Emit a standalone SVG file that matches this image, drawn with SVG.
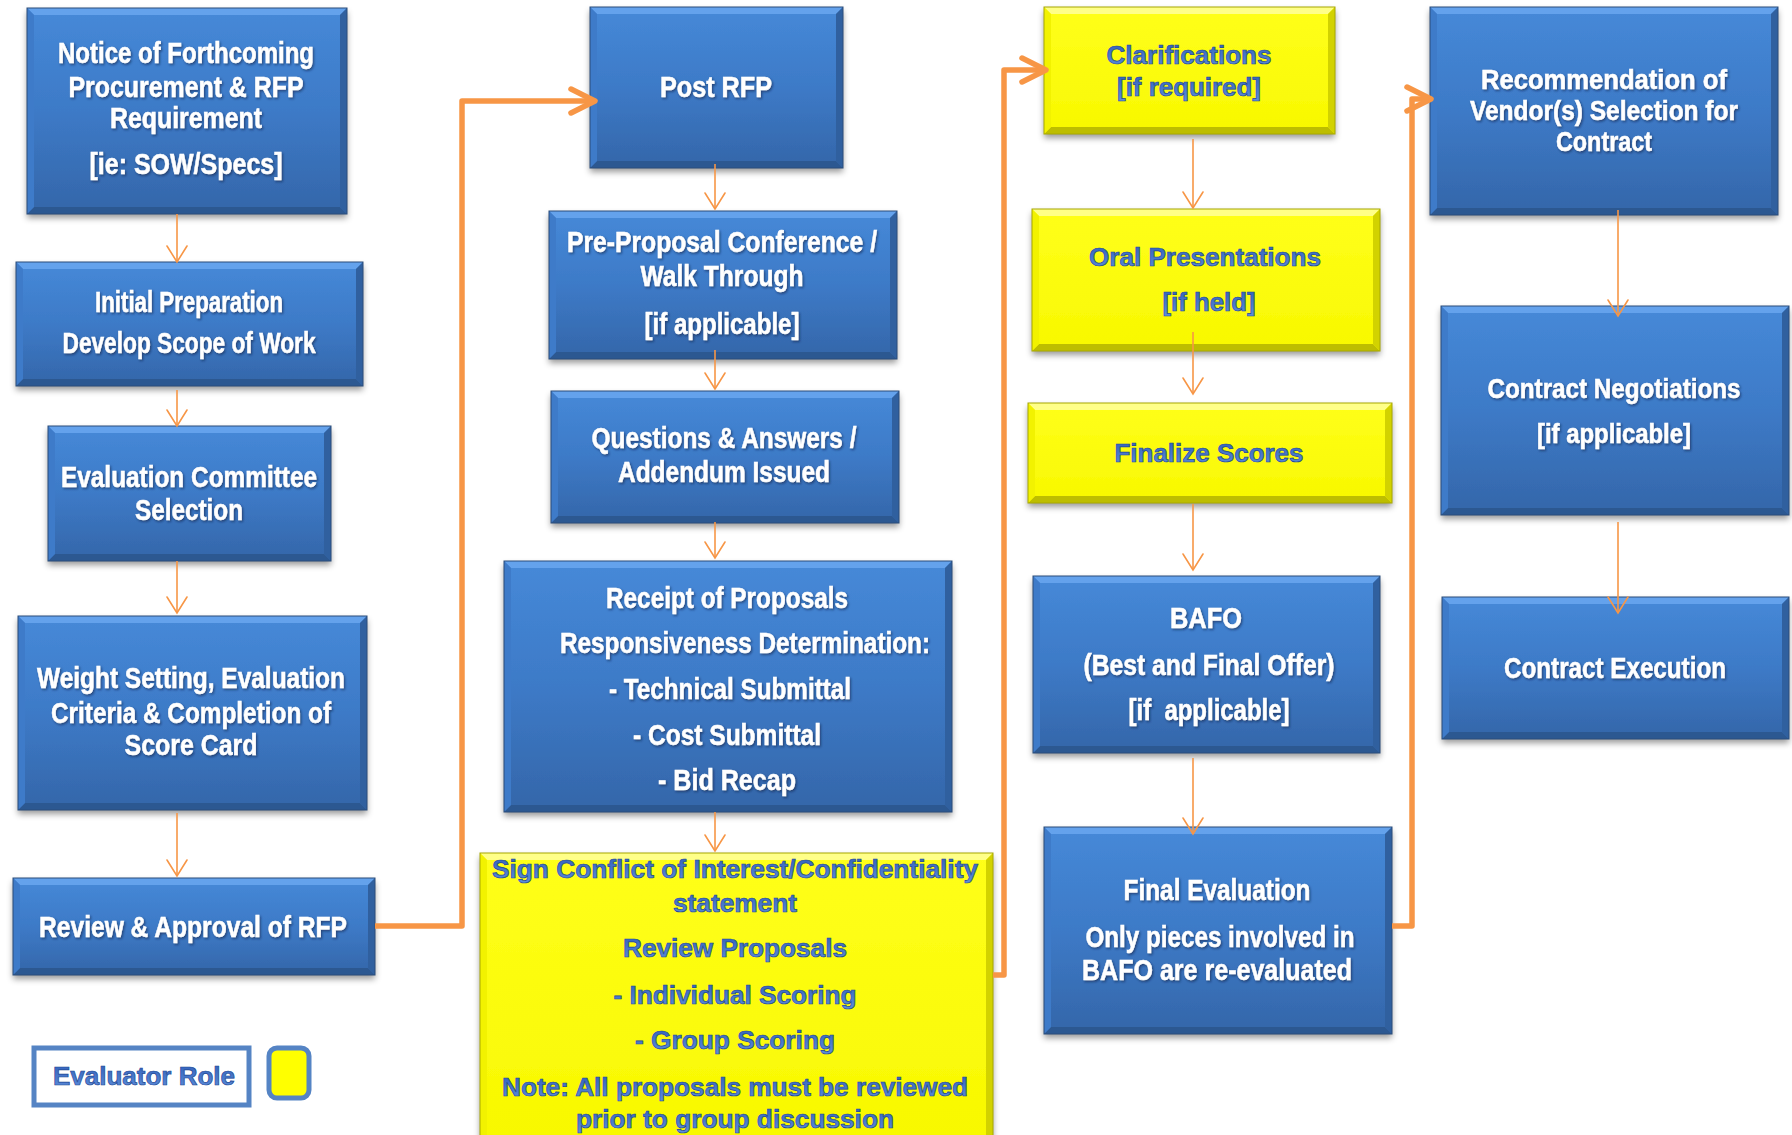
<svg xmlns="http://www.w3.org/2000/svg" width="1792" height="1135" viewBox="0 0 1792 1135">
<defs>
<linearGradient id="gb" x1="0" y1="0" x2="0" y2="1">
<stop offset="0" stop-color="#4689D8"/><stop offset="0.5" stop-color="#3D7AC7"/><stop offset="1" stop-color="#3466A9"/>
</linearGradient>
<linearGradient id="gy" x1="0" y1="0" x2="0" y2="1">
<stop offset="0" stop-color="#FFFF1A"/><stop offset="1" stop-color="#F8F800"/>
</linearGradient>
<linearGradient id="gt" x1="0" y1="0" x2="0" y2="1">
<stop offset="0" stop-color="#2E5DB8"/><stop offset="1" stop-color="#5F90DC"/>
</linearGradient>
<filter id="sh" x="-10%" y="-10%" width="120%" height="130%">
<feDropShadow dx="0" dy="4" stdDeviation="3" flood-color="#000" flood-opacity="0.4"/>
</filter>
<filter id="ts" x="-5%" y="-20%" width="110%" height="150%">
<feDropShadow dx="1.2" dy="1.5" stdDeviation="0.8" flood-color="#0B1E40" flood-opacity="0.6"/>
</filter>
<marker id="ah" markerUnits="userSpaceOnUse" markerWidth="40" markerHeight="40" viewBox="-20 -20 40 40" refX="0" refY="0" orient="auto" overflow="visible">
<path d="M -16 -10 L 0 0 L -16 10" fill="none" stroke="#F79646" stroke-width="1.6" stroke-linecap="round" stroke-linejoin="miter"/>
</marker>
<marker id="ahb" markerUnits="userSpaceOnUse" markerWidth="60" markerHeight="60" viewBox="-30 -30 60 60" refX="0" refY="0" orient="auto" overflow="visible">
<path d="M -24 -12 L 0 0 L -24 12" fill="none" stroke="#F79646" stroke-width="5.5" stroke-linecap="round" stroke-linejoin="round"/>
</marker>
</defs>
<style>
.fb{fill:url(#gb)}
.fy{fill:url(#gy)}
.bt{fill:#64A2EC}.bb{fill:#2C5891}.bl{fill:#3E7BC9}.br{fill:#30609F}
.yt{fill:#FFFF88}.yb{fill:#BDBD00}.yl{fill:#F2F200}.yr{fill:#D2D200}
.ob{fill:none;stroke:#2A4C7A;stroke-width:1}
.oy{fill:none;stroke:#A8A800;stroke-width:1}
.tw text{font-family:"Liberation Sans",Arial,sans-serif;font-weight:bold;font-size:30px;fill:#FFFFFF;stroke:#FFFFFF;stroke-width:0.5;text-anchor:middle}
.tw.sm text{font-size:27px}
.ty text{font-family:"Liberation Sans",Arial,sans-serif;font-weight:bold;font-size:26px;fill:url(#gt);stroke:#1F4793;stroke-width:0.7;text-anchor:middle}
.thin{fill:none;stroke:#F79646;stroke-width:1.6;marker-end:url(#ah)}
.thick{fill:none;stroke:#F79646;stroke-width:5.5;stroke-linejoin:round;marker-end:url(#ahb)}
</style>
<rect width="1792" height="1135" fill="#FFFFFF"/>

<g id="notice">
<rect class="fb" x="27" y="8" width="320" height="206" filter="url(#sh)"/>
<polygon class="bt" points="27,8 347,8 340,15 34,15"/><polygon class="bb" points="27,214 347,214 340,207 34,207"/><polygon class="bl" points="27,8 34,15 34,207 27,214"/><polygon class="br" points="347,8 340,15 340,207 347,214"/>
<rect class="ob" x="27" y="8" width="320" height="206"/>
<g class="tw" filter="url(#ts)">
<text x="186" y="63" textLength="256" lengthAdjust="spacingAndGlyphs">Notice of Forthcoming</text>
<text x="186" y="97" textLength="235" lengthAdjust="spacingAndGlyphs">Procurement &amp; RFP</text>
<text x="186" y="128" textLength="152" lengthAdjust="spacingAndGlyphs">Requirement</text>
<text x="186" y="174" textLength="193" lengthAdjust="spacingAndGlyphs">[ie: SOW/Specs]</text>
</g>
</g>

<g id="initial">
<rect class="fb" x="16" y="262" width="347" height="124" filter="url(#sh)"/>
<polygon class="bt" points="16,262 363,262 356,269 23,269"/><polygon class="bb" points="16,386 363,386 356,379 23,379"/><polygon class="bl" points="16,262 23,269 23,379 16,386"/><polygon class="br" points="363,262 356,269 356,379 363,386"/>
<rect class="ob" x="16" y="262" width="347" height="124"/>
<g class="tw" filter="url(#ts)">
<text x="189" y="312" textLength="188" lengthAdjust="spacingAndGlyphs">Initial Preparation</text>
<text x="189" y="353" textLength="253" lengthAdjust="spacingAndGlyphs">Develop Scope of Work</text>
</g>
</g>

<g id="committee">
<rect class="fb" x="48" y="426" width="283" height="135" filter="url(#sh)"/>
<polygon class="bt" points="48,426 331,426 324,433 55,433"/><polygon class="bb" points="48,561 331,561 324,554 55,554"/><polygon class="bl" points="48,426 55,433 55,554 48,561"/><polygon class="br" points="331,426 324,433 324,554 331,561"/>
<rect class="ob" x="48" y="426" width="283" height="135"/>
<g class="tw" filter="url(#ts)">
<text x="189" y="487" textLength="256" lengthAdjust="spacingAndGlyphs">Evaluation Committee</text>
<text x="189" y="520" textLength="108" lengthAdjust="spacingAndGlyphs">Selection</text>
</g>
</g>

<g id="weight">
<rect class="fb" x="18" y="616" width="349" height="194" filter="url(#sh)"/>
<polygon class="bt" points="18,616 367,616 360,623 25,623"/><polygon class="bb" points="18,810 367,810 360,803 25,803"/><polygon class="bl" points="18,616 25,623 25,803 18,810"/><polygon class="br" points="367,616 360,623 360,803 367,810"/>
<rect class="ob" x="18" y="616" width="349" height="194"/>
<g class="tw" filter="url(#ts)">
<text x="191" y="688" textLength="308" lengthAdjust="spacingAndGlyphs">Weight Setting, Evaluation</text>
<text x="191" y="723" textLength="280" lengthAdjust="spacingAndGlyphs">Criteria &amp; Completion of</text>
<text x="191" y="755" textLength="133" lengthAdjust="spacingAndGlyphs">Score Card</text>
</g>
</g>

<g id="review">
<rect class="fb" x="13" y="878" width="362" height="97" filter="url(#sh)"/>
<polygon class="bt" points="13,878 375,878 368,885 20,885"/><polygon class="bb" points="13,975 375,975 368,968 20,968"/><polygon class="bl" points="13,878 20,885 20,968 13,975"/><polygon class="br" points="375,878 368,885 368,968 375,975"/>
<rect class="ob" x="13" y="878" width="362" height="97"/>
<g class="tw" filter="url(#ts)">
<text x="193" y="937" textLength="308" lengthAdjust="spacingAndGlyphs">Review &amp; Approval of RFP</text>
</g>
</g>

<g id="legend">
<rect x="34" y="1048" width="215" height="57" fill="#FFFFFF" stroke="#5584C4" stroke-width="5"/>
<g class="ty"><text x="144" y="1085" textLength="182" lengthAdjust="spacingAndGlyphs">Evaluator Role</text></g>
<rect x="269" y="1048" width="40" height="50" rx="8" fill="#FFFF00" stroke="#5584C4" stroke-width="5"/>
</g>

<g id="post">
<rect class="fb" x="590" y="7" width="253" height="161" filter="url(#sh)"/>
<polygon class="bt" points="590,7 843,7 836,14 597,14"/><polygon class="bb" points="590,168 843,168 836,161 597,161"/><polygon class="bl" points="590,7 597,14 597,161 590,168"/><polygon class="br" points="843,7 836,14 836,161 843,168"/>
<rect class="ob" x="590" y="7" width="253" height="161"/>
<g class="tw" filter="url(#ts)">
<text x="716" y="97" textLength="112" lengthAdjust="spacingAndGlyphs">Post RFP</text>
</g>
</g>

<g id="preproposal">
<rect class="fb" x="549" y="211" width="348" height="148" filter="url(#sh)"/>
<polygon class="bt" points="549,211 897,211 890,218 556,218"/><polygon class="bb" points="549,359 897,359 890,352 556,352"/><polygon class="bl" points="549,211 556,218 556,352 549,359"/><polygon class="br" points="897,211 890,218 890,352 897,359"/>
<rect class="ob" x="549" y="211" width="348" height="148"/>
<g class="tw" filter="url(#ts)">
<text x="722" y="252" textLength="310" lengthAdjust="spacingAndGlyphs">Pre-Proposal Conference /</text>
<text x="722" y="286" textLength="163" lengthAdjust="spacingAndGlyphs">Walk Through</text>
<text x="722" y="334" textLength="155" lengthAdjust="spacingAndGlyphs">[if applicable]</text>
</g>
</g>

<g id="qa">
<rect class="fb" x="551" y="391" width="348" height="132" filter="url(#sh)"/>
<polygon class="bt" points="551,391 899,391 892,398 558,398"/><polygon class="bb" points="551,523 899,523 892,516 558,516"/><polygon class="bl" points="551,391 558,398 558,516 551,523"/><polygon class="br" points="899,391 892,398 892,516 899,523"/>
<rect class="ob" x="551" y="391" width="348" height="132"/>
<g class="tw" filter="url(#ts)">
<text x="724" y="448" textLength="265" lengthAdjust="spacingAndGlyphs">Questions &amp; Answers /</text>
<text x="724" y="482" textLength="212" lengthAdjust="spacingAndGlyphs">Addendum Issued</text>
</g>
</g>

<g id="receipt">
<rect class="fb" x="504" y="561" width="448" height="251" filter="url(#sh)"/>
<polygon class="bt" points="504,561 952,561 945,568 511,568"/><polygon class="bb" points="504,812 952,812 945,805 511,805"/><polygon class="bl" points="504,561 511,568 511,805 504,812"/><polygon class="br" points="952,561 945,568 945,805 952,812"/>
<rect class="ob" x="504" y="561" width="448" height="251"/>
<g class="tw" filter="url(#ts)">
<text x="727" y="608" textLength="242" lengthAdjust="spacingAndGlyphs">Receipt of Proposals</text>
<text x="745" y="653" textLength="370" lengthAdjust="spacingAndGlyphs">Responsiveness Determination:</text>
<text x="730" y="699" textLength="242" lengthAdjust="spacingAndGlyphs">- Technical Submittal</text>
<text x="727" y="745" textLength="188" lengthAdjust="spacingAndGlyphs">- Cost Submittal</text>
<text x="727" y="790" textLength="138" lengthAdjust="spacingAndGlyphs">- Bid Recap</text>
</g>
</g>

<g id="conflict">
<rect class="fy" x="480" y="853" width="513" height="292" filter="url(#sh)"/>
<polygon class="yt" points="480,853 993,853 986,860 487,860"/><polygon class="yl" points="480,853 487,860 487,1145 480,1145"/><polygon class="yr" points="993,853 986,860 986,1145 993,1145"/>
<rect class="oy" x="480" y="853" width="513" height="292"/>
<g class="ty">
<text x="735" y="878" textLength="486" lengthAdjust="spacingAndGlyphs">Sign Conflict of Interest/Confidentiality</text>
<text x="735" y="912" textLength="124" lengthAdjust="spacingAndGlyphs">statement</text>
<text x="735" y="957" textLength="224" lengthAdjust="spacingAndGlyphs">Review Proposals</text>
<text x="735" y="1004" textLength="243" lengthAdjust="spacingAndGlyphs">- Individual Scoring</text>
<text x="735" y="1049" textLength="200" lengthAdjust="spacingAndGlyphs">- Group Scoring</text>
<text x="735" y="1096" textLength="466" lengthAdjust="spacingAndGlyphs">Note: All proposals must be reviewed</text>
<text x="735" y="1128" textLength="318" lengthAdjust="spacingAndGlyphs">prior to group discussion</text>
</g>
</g>

<g id="clarifications">
<rect class="fy" x="1044" y="7" width="291" height="127" filter="url(#sh)"/>
<polygon class="yt" points="1044,7 1335,7 1328,14 1051,14"/><polygon class="yb" points="1044,134 1335,134 1328,127 1051,127"/><polygon class="yl" points="1044,7 1051,14 1051,127 1044,134"/><polygon class="yr" points="1335,7 1328,14 1328,127 1335,134"/>
<rect class="oy" x="1044" y="7" width="291" height="127"/>
<g class="ty">
<text x="1189" y="64" textLength="165" lengthAdjust="spacingAndGlyphs">Clarifications</text>
<text x="1189" y="96" textLength="144" lengthAdjust="spacingAndGlyphs">[if required]</text>
</g>
</g>

<g id="oral">
<rect class="fy" x="1032" y="209" width="348" height="142" filter="url(#sh)"/>
<polygon class="yt" points="1032,209 1380,209 1373,216 1039,216"/><polygon class="yb" points="1032,351 1380,351 1373,344 1039,344"/><polygon class="yl" points="1032,209 1039,216 1039,344 1032,351"/><polygon class="yr" points="1380,209 1373,216 1373,344 1380,351"/>
<rect class="oy" x="1032" y="209" width="348" height="142"/>
<g class="ty">
<text x="1205" y="266" textLength="232" lengthAdjust="spacingAndGlyphs">Oral Presentations</text>
<text x="1209" y="311" textLength="93" lengthAdjust="spacingAndGlyphs">[if held]</text>
</g>
</g>

<g id="finalize">
<rect class="fy" x="1028" y="403" width="364" height="100" filter="url(#sh)"/>
<polygon class="yt" points="1028,403 1392,403 1385,410 1035,410"/><polygon class="yb" points="1028,503 1392,503 1385,496 1035,496"/><polygon class="yl" points="1028,403 1035,410 1035,496 1028,503"/><polygon class="yr" points="1392,403 1385,410 1385,496 1392,503"/>
<rect class="oy" x="1028" y="403" width="364" height="100"/>
<g class="ty">
<text x="1209" y="462" textLength="189" lengthAdjust="spacingAndGlyphs">Finalize Scores</text>
</g>
</g>

<g id="bafo">
<rect class="fb" x="1033" y="576" width="347" height="177" filter="url(#sh)"/>
<polygon class="bt" points="1033,576 1380,576 1373,583 1040,583"/><polygon class="bb" points="1033,753 1380,753 1373,746 1040,746"/><polygon class="bl" points="1033,576 1040,583 1040,746 1033,753"/><polygon class="br" points="1380,576 1373,583 1373,746 1380,753"/>
<rect class="ob" x="1033" y="576" width="347" height="177"/>
<g class="tw" filter="url(#ts)">
<text x="1206" y="628" textLength="72" lengthAdjust="spacingAndGlyphs">BAFO</text>
<text x="1209" y="675" textLength="251" lengthAdjust="spacingAndGlyphs">(Best and Final Offer)</text>
<text x="1209" y="720" textLength="161" lengthAdjust="spacingAndGlyphs" xml:space="preserve">[if  applicable]</text>
</g>
</g>

<g id="finaleval">
<rect class="fb" x="1044" y="827" width="348" height="207" filter="url(#sh)"/>
<polygon class="bt" points="1044,827 1392,827 1385,834 1051,834"/><polygon class="bb" points="1044,1034 1392,1034 1385,1027 1051,1027"/><polygon class="bl" points="1044,827 1051,834 1051,1027 1044,1034"/><polygon class="br" points="1392,827 1385,834 1385,1027 1392,1034"/>
<rect class="ob" x="1044" y="827" width="348" height="207"/>
<g class="tw" filter="url(#ts)">
<text x="1217" y="900" textLength="187" lengthAdjust="spacingAndGlyphs">Final Evaluation</text>
<text x="1220" y="947" textLength="269" lengthAdjust="spacingAndGlyphs">Only pieces involved in</text>
<text x="1217" y="980" textLength="270" lengthAdjust="spacingAndGlyphs">BAFO are re-evaluated</text>
</g>
</g>

<g id="recommendation">
<rect class="fb" x="1430" y="7" width="348" height="208" filter="url(#sh)"/>
<polygon class="bt" points="1430,7 1778,7 1771,14 1437,14"/><polygon class="bb" points="1430,215 1778,215 1771,208 1437,208"/><polygon class="bl" points="1430,7 1437,14 1437,208 1430,215"/><polygon class="br" points="1778,7 1771,14 1771,208 1778,215"/>
<rect class="ob" x="1430" y="7" width="348" height="208"/>
<g class="tw sm" filter="url(#ts)">
<text x="1604" y="89" textLength="246" lengthAdjust="spacingAndGlyphs">Recommendation of</text>
<text x="1604" y="120" textLength="268" lengthAdjust="spacingAndGlyphs">Vendor(s) Selection for</text>
<text x="1604" y="151" textLength="96" lengthAdjust="spacingAndGlyphs">Contract</text>
</g>
</g>

<g id="negotiations">
<rect class="fb" x="1441" y="306" width="348" height="209" filter="url(#sh)"/>
<polygon class="bt" points="1441,306 1789,306 1782,313 1448,313"/><polygon class="bb" points="1441,515 1789,515 1782,508 1448,508"/><polygon class="bl" points="1441,306 1448,313 1448,508 1441,515"/><polygon class="br" points="1789,306 1782,313 1782,508 1789,515"/>
<rect class="ob" x="1441" y="306" width="348" height="209"/>
<g class="tw sm" filter="url(#ts)">
<text x="1614" y="398" textLength="253" lengthAdjust="spacingAndGlyphs">Contract Negotiations</text>
<text x="1614" y="443" textLength="154" lengthAdjust="spacingAndGlyphs">[if applicable]</text>
</g>
</g>

<g id="execution">
<rect class="fb" x="1442" y="597" width="347" height="142" filter="url(#sh)"/>
<polygon class="bt" points="1442,597 1789,597 1782,604 1449,604"/><polygon class="bb" points="1442,739 1789,739 1782,732 1449,732"/><polygon class="bl" points="1442,597 1449,604 1449,732 1442,739"/><polygon class="br" points="1789,597 1782,604 1782,732 1789,739"/>
<rect class="ob" x="1442" y="597" width="347" height="142"/>
<g class="tw" filter="url(#ts)">
<text x="1615" y="678" textLength="222" lengthAdjust="spacingAndGlyphs">Contract Execution</text>
</g>
</g>

<g id="connectors">
<path class="thin" d="M177 214 V262"/>
<path class="thin" d="M177 390 V426"/>
<path class="thin" d="M177 561 V613"/>
<path class="thin" d="M177 813 V876"/>
<path class="thin" d="M715 164 V209"/>
<path class="thin" d="M715 350 V389"/>
<path class="thin" d="M715 522 V558"/>
<path class="thin" d="M715 812 V851"/>
<path class="thin" d="M1193 139 V208"/>
<path class="thin" d="M1193 332 V394"/>
<path class="thin" d="M1193 504 V570"/>
<path class="thin" d="M1193 758 V834"/>
<path class="thin" d="M1618 210 V316"/>
<path class="thin" d="M1618 522 V613"/>
<path class="thick" d="M375 926 H462 V101 H595"/>
<path class="thick" d="M993 975 H1004 V70 H1046"/>
<path class="thick" d="M1392 926 H1412 V99 H1431"/>
</g>
</svg>
